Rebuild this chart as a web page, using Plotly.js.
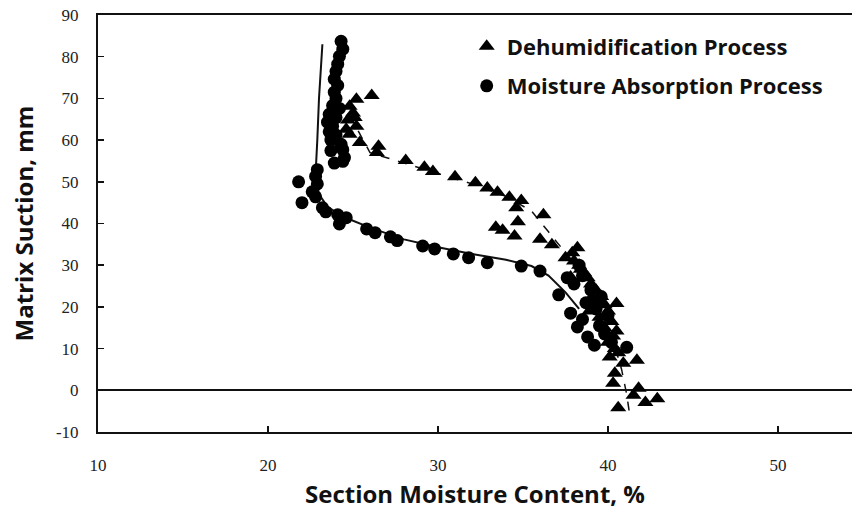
<!DOCTYPE html>
<html>
<head>
<meta charset="utf-8">
<script src="https://cdn.plot.ly/plotly-3.0.1.min.js"></script>
<style>html,body{margin:0;padding:0;background:#fff;}#chart{width:852px;height:514px;}</style>
</head>
<body>
<div id="chart"></div>
<script>
// Dehumidification Process (triangles)
const dehumX = [25.2,26.1,24.8,25.0,25.1,24.7,25.2,24.6,24.8,25.4,26.5,26.4,28.1,29.2,29.7,31.0,32.2,32.9,33.5,34.2,34.9,34.6,34.7,36.2,33.4,33.8,34.5,36.0,36.7,37.5,38.2,37.9,38.0,38.3,38.4,37.8,38.6,38.8,39.0,39.3,39.6,39.2,39.8,40.0,39.5,40.2,39.8,40.3,40.0,40.4,40.6,40.1,38.9,39.0,40.5,40.5,41.7,40.9,40.4,40.3,41.8,42.2,42.9,41.5,40.6];
const dehumY = [69.8,70.7,68.1,66.5,65.4,64.8,63.3,62.6,61.4,59.4,58.5,57.0,55.1,53.5,52.5,51.2,49.8,48.5,47.5,46.3,45.5,43.8,40.4,42.1,39.1,38.4,37.0,36.2,34.9,31.8,34.2,33.0,31.0,30.0,29.0,27.2,28.2,27.0,25.5,24.0,22.5,21.5,20.5,19.0,17.5,16.5,15.0,13.0,11.5,10.0,9.0,8.0,19.0,22.0,20.8,14.2,7.2,6.5,4.1,1.7,0.5,-2.9,-2.0,-1.2,-4.2];
// Moisture Absorption Process (circles)
const absorbX = [24.3,24.4,24.2,24.1,24.0,23.9,24.1,23.9,24.0,23.8,24.2,23.6,24.0,23.5,23.8,23.6,24.0,23.7,24.3,23.7,24.4,24.5,23.9,24.4,22.9,22.8,21.8,22.9,22.6,22.8,22.0,23.2,23.4,24.1,24.6,24.2,25.8,26.3,27.2,27.6,29.1,29.8,30.9,31.8,32.9,34.9,36.0,37.1,37.8,38.2,38.8,41.1,38.0,38.5,39.0,38.7,39.3,38.5,39.5,39.8,40.2,39.2,40.0,39.6,38.3,37.6];
const absorbY = [83.7,81.8,80.1,78.2,76.5,74.6,73.1,71.5,70.0,68.3,67.6,66.2,65.4,64.3,63.3,62.0,61.2,60.0,59.0,57.5,57.7,55.8,54.5,54.9,52.9,51.3,50.0,49.5,47.6,46.4,45.0,43.8,42.8,42.1,41.4,39.9,38.7,37.8,36.8,35.9,34.6,33.9,32.7,31.8,30.6,29.8,28.6,22.9,18.5,15.2,12.8,10.3,25.5,27.5,24.0,21.0,19.5,17.0,15.5,13.5,11.5,10.8,18.0,22.5,30.0,27.0];
// Fitted curves
const absorbFitX = [23.2,23.0,22.9,22.8,23.0,23.5,24.5,26.0,28.0,30.0,32.0,34.0,35.5,36.5,37.5,38.3];
const absorbFitY = [83.0,70.0,60.0,52.0,47.0,44.0,41.5,39.0,36.2,34.3,32.7,31.3,29.8,27.5,23.5,19.5];
const dehumFitX = [24.8,26.0,28.0,30.0,32.0,34.0,35.5,36.5,37.5,38.5,39.5,40.3,40.8,41.1,41.3];
const dehumFitY = [66.0,57.0,54.5,52.0,49.5,46.5,43.0,38.0,33.0,27.0,20.0,12.0,5.0,-1.0,-6.5];

const xTicks = [10,20,30,40,50];
const yTicks = [-10,0,10,20,30,40,50,60,70,80,90];
const seriesNames = ["Dehumidification Process","Moisture Absorption Process"];

const titleFont = {family:'Open Sans, sans-serif', size:24, color:'#111', weight:700};

const traces = [
  {x: absorbFitX, y: absorbFitY, type:'scatter', mode:'lines', line:{color:'#111', width:2}, showlegend:false, hoverinfo:'skip'},
  {x: dehumFitX, y: dehumFitY, type:'scatter', mode:'lines', line:{color:'#111', width:1.5, dash:'dash'}, showlegend:false, hoverinfo:'skip'},
  {x: dehumX, y: dehumY, type:'scatter', mode:'markers', name: seriesNames[0], legendgroup:'a',
   marker:{symbol:'triangle-up', size:14, color:'#000'}},
  {x: absorbX, y: absorbY, type:'scatter', mode:'markers', name: seriesNames[1], legendgroup:'b',
   marker:{symbol:'circle', size:13, color:'#000'}}
];

const layout = {
  width:852, height:514,
  margin:{l:98, r:0, t:15, b:82},
  paper_bgcolor:'#fff', plot_bgcolor:'#fff',
  showlegend:true,
  legend:{x:0.489, y:0.975, xanchor:'left', yanchor:'top', bgcolor:'rgba(0,0,0,0)',
    font:{family:'Open Sans, sans-serif', size:22, color:'#111', weight:700}, tracegroupgap:8, itemwidth:30},
  xaxis:{range:[10, 10+754/17], tickvals:xTicks, ticktext:xTicks.map(String), ticks:'inside', ticklen:6, tickwidth:1.5, tickcolor:'#111',
    showline:true, linecolor:'#111', linewidth:2, mirror:true, showgrid:false, zeroline:false,
    tickfont:{family:'Liberation Serif, serif', size:17, color:'#222'}, ticklabelstandoff:17,
    title:{text:'Section Moisture Content, %', font:titleFont, standoff:12}},
  yaxis:{range:[-10,90], tickvals:yTicks, ticktext:yTicks.map(String), ticks:'inside', ticklen:6, tickwidth:1.5, tickcolor:'#111',
    showline:true, linecolor:'#111', linewidth:2, showgrid:false, zeroline:true, zerolinecolor:'#111', zerolinewidth:2,
    tickfont:{family:'Liberation Serif, serif', size:17, color:'#222'}, ticklabelstandoff:14,
    title:{text:'Matrix Suction, mm', font:titleFont, standoff:16}}
};

Plotly.newPlot('chart', traces, layout, {displayModeBar:false, staticPlot:true});
</script>
</body>
</html>
